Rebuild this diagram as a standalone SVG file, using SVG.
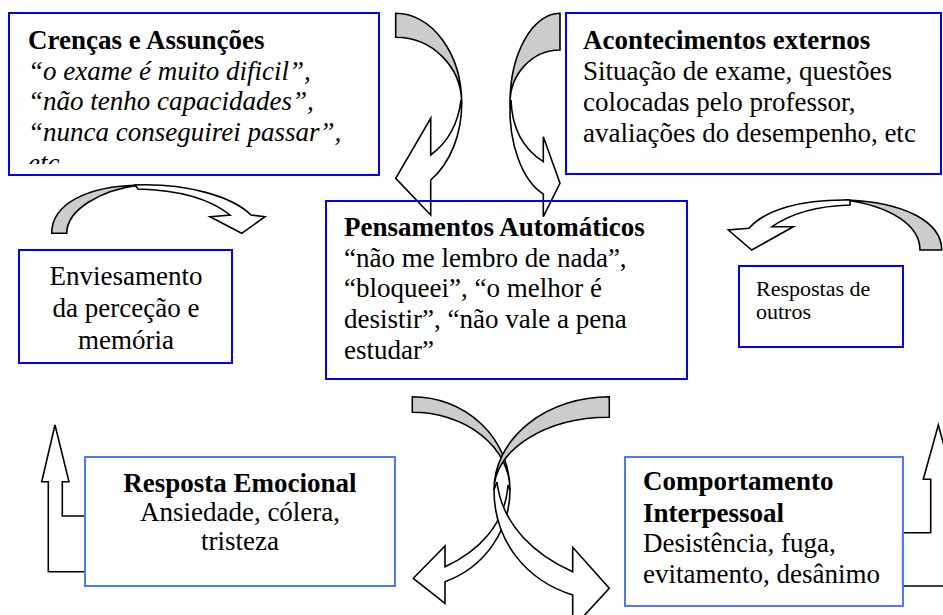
<svg xmlns="http://www.w3.org/2000/svg" width="943" height="615" viewBox="0 0 943 615">
<style>
.bg{fill:#ffffff}
.box{fill:none;stroke:#0000ff;stroke-width:2}
.box2{fill:none;stroke:#4a78ff;stroke-width:2}
.front{fill:#ffffff;stroke:#000000;stroke-width:1.6;stroke-linejoin:miter}
.back{fill:#cccccc;stroke:#000000;stroke-width:1.6}
.t{font-family:"Liberation Serif","Times New Roman",serif;font-size:27px;fill:#000000}
.s{font-size:22px}
.b{font-weight:bold}
.i{font-style:italic}
.m{text-anchor:middle}
</style>
<defs>
<clipPath id="clipCrencas"><rect x="10" y="14" width="368" height="150"/></clipPath>
</defs>
<rect class="bg" x="0" y="0" width="943" height="615"/>
<g id="connectors">
  <g id="arrow-top-left">
    <path class="back" d="M395.7,13.3 A66,90 0 0 1 461.7,103.3 A66,66 0 0 0 395.7,37.3 Z"/>
    <path class="front" d="M461.7,103.3 A66,90 0 0 1 430.7,180 L430.7,215 L395.7,178.3 L430.7,118.3 L430.7,155 C447,143 458,125 461,100 Z"/>
  </g>
  <g id="arrow-top-right">
    <path class="back" d="M560,13.3 A50,90 0 0 0 510,103.3 A50,53 0 0 1 560,50 Z"/>
    <path class="front" d="M510,103.3 A50,90 0 0 0 543.3,194 L543.3,216.7 L560,183.3 L543.3,136.7 L543.3,161.7 C525,150 512,130 511,100 Z"/>
  </g>
  <g id="arrow-mid-left">
    <path class="back" d="M51.7,233.3 C51.7,205 85,186 140,185 C100,190 66.7,210 66.7,233.3 Z"/>
    <path class="front" d="M135,185 C185,183 232,196 251,215 L265,216.7 L241.7,233.3 L210,216.7 L230,215 C210,199 180,190 138,189 Z"/>
  </g>
  <g id="arrow-mid-right">
    <path class="back" d="M941.7,250 C941.7,222 905,202 845,200 C890,206 920,225 920,250 Z"/>
    <path class="front" d="M850,200 C800,199 765,210 749,228.3 L728.3,230 L751.7,250 L793.3,226.7 L772,226.7 C790,214 815,206 850,205 Z"/>
  </g>
  <g id="arrow-bottom-left">
    <path class="back" d="M412.3,396.7 A97.7,93.3 0 0 1 510,490 A97.7,77.7 0 0 0 412.3,412.3 Z"/>
  </g>
  <g id="arrow-bottom-right">
    <path class="back" d="M609.3,396.7 A115.3,93.3 0 0 0 494,490 A115.3,72.7 0 0 1 609.3,417.3 Z"/>
  </g>
  <path class="front" d="M510,490 C510,530 485,567 445,581.7 L445,603.3 L413.3,578.3 L445,546 L445,566.7 C478,552 505,525 508,485 Z"/>
  <path class="front" d="M494,490 C494,540 525,580 572.7,595 L572.7,628 L609.3,588.3 L572.7,547.3 L572.7,571.7 C535,555 502,525 497,482 Z"/>
  <polygon class="front" points="55,425 69,481.7 62.3,481.7 62.3,516 85,516 85,571.7 48.3,571.7 48.3,481.7 41.7,481.7"/>
  <polygon class="front" points="938.3,425 953.3,479.3 946,479.3 946,586 902.7,586 902.7,532.7 930.7,532.7 930.7,479.3 923.3,479.3"/>
</g>
<g id="node-crencas">
  <rect class="box" x="9" y="13" width="370" height="162"/>
  <g clip-path="url(#clipCrencas)">
    <text class="t b" x="28" y="48.5">Crenças e Assunções</text>
    <text class="t i" x="28" y="79.5">“o exame é muito dificil”,</text>
    <text class="t i" x="28" y="110">“não tenho capacidades”,</text>
    <text class="t i" x="28" y="140.5">“nunca conseguirei passar”,</text>
    <text class="t i" x="28" y="171.5">etc</text>
  </g>
</g>
<g id="node-acontecimentos">
  <rect class="box" x="566" y="13" width="375" height="161"/>
  <text class="t b" x="583" y="48.5">Acontecimentos externos</text>
  <text class="t" x="583" y="79.5">Situação de exame, questões</text>
  <text class="t" x="583" y="110.5">colocadas pelo professor,</text>
  <text class="t" x="583" y="141.5">avaliações do desempenho, etc</text>
</g>
<g id="node-pensamentos">
  <rect class="box" x="326" y="201" width="361" height="178"/>
  <text class="t b" x="344" y="235.5">Pensamentos Automáticos</text>
  <text class="t" x="344" y="266.5">“não me lembro de nada”,</text>
  <text class="t" x="344" y="297">“bloqueei”, “o melhor é</text>
  <text class="t" x="344" y="327.5">desistir”, “não vale a pena</text>
  <text class="t" x="344" y="358.5">estudar”</text>
</g>
<g id="node-enviesamento">
  <rect class="box" x="19" y="250" width="213" height="113"/>
  <text class="t m" x="126" y="284.5">Enviesamento</text>
  <text class="t m" x="126" y="316.5">da perceção e</text>
  <text class="t m" x="126" y="348.5">memória</text>
</g>
<g id="node-respostas-outros">
  <rect class="box" x="739" y="266" width="164" height="81"/>
  <text class="t s" x="756" y="296">Respostas de</text>
  <text class="t s" x="756" y="319">outros</text>
</g>
<g id="node-resposta-emocional">
  <rect class="box2" x="85" y="457" width="310" height="129"/>
  <text class="t b m" x="240" y="491.5">Resposta Emocional</text>
  <text class="t m" x="240" y="521">Ansiedade, cólera,</text>
  <text class="t m" x="240" y="550">tristeza</text>
</g>
<g id="node-comportamento">
  <rect class="box2" x="625" y="457" width="278" height="149"/>
  <text class="t b" x="643" y="490">Comportamento</text>
  <text class="t b" x="643" y="521.5">Interpessoal</text>
  <text class="t" x="643" y="551.5">Desistência, fuga,</text>
  <text class="t" x="643" y="582.5">evitamento, desânimo</text>
</g>
</svg>
